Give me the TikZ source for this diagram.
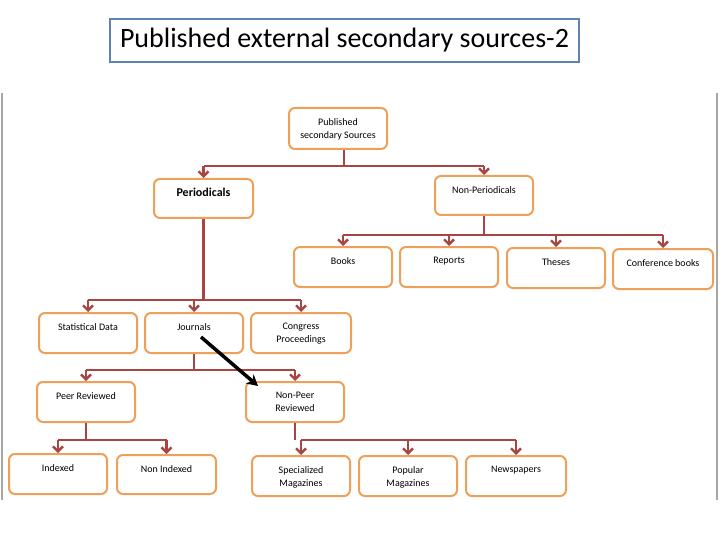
\documentclass[tikz,border=0pt]{standalone}
\usepackage{fontspec}
\setmainfont{Carlito}
\usetikzlibrary{arrows.meta,calc}
\definecolor{conn}{RGB}{168,68,66}
\definecolor{boxc}{RGB}{238,160,88}
\definecolor{titc}{RGB}{96,130,172}
\tikzset{
  box/.style={draw=boxc, line width=2pt, rounded corners=6pt, fill=white, inner sep=0pt},
  lbl/.style={anchor=north, yshift=-11pt, inner sep=0pt, align=center, font=\fontsize{10}{13}\selectfont},
  conn/.style={draw=conn, line width=2.6pt},
  arr/.style={conn, -{Straight Barb[length=5pt,width=10pt,line width=2.4pt]}},
}
\newcommand\bx[5]{\node[box, minimum width=#3pt, minimum height=#4pt, label={[lbl]north:#5}] (#1) at (#2) {};}
\begin{document}
\begin{tikzpicture}[x=1pt,y=-1pt]
\useasboundingbox (0,0) rectangle (720,540);
% side rules
\draw[gray!70, line width=1.5pt] (2,93) -- (2,500);
\draw[gray!70, line width=1.5pt] (717,93) -- (717,500);
% title
\node[draw=titc, line width=2pt, minimum width=469pt, minimum height=43pt, inner sep=0pt,
      font=\fontsize{28}{32}\selectfont] (title) at (344.5,40.5) {Published external secondary sources-2};
% boxes
\bx{pub}{338,128.5}{98}{41}{Published\\secondary Sources}
\node[box, minimum width=99pt, minimum height=39pt,
      label={[lbl, yshift=1pt, font=\bfseries\fontsize{12}{14}\selectfont]north:Periodicals}] (per) at (203.5,198.5) {};
\bx{nonper}{484,195.5}{98}{39}{Non-Periodicals}
\bx{books}{343,267}{98}{40}{Books}
\bx{reports}{449,267}{98}{40}{Reports}
\bx{theses}{556,268}{98}{40}{Theses}
\bx{conf}{663,269}{100}{40}{Conference books}
\bx{stat}{88,333}{98}{40}{Statistical Data}
\bx{jour}{194,333}{98}{40}{Journals}
\bx{cong}{301,333}{100}{40}{Congress\\Proceedings}
\bx{peer}{86,402}{98}{40}{Peer Reviewed}
\bx{nonpeer}{295,402}{98}{40}{Non-Peer\\Reviewed}
\bx{idx}{58,474}{98}{40}{Indexed}
\bx{nidx}{166.5,474.5}{99}{39}{Non Indexed}
\bx{spec}{301,476}{98}{40}{Specialized\\Magazines}
\bx{pop}{408,476}{98}{40}{Popular\\Magazines}
\bx{news}{516,476}{100}{40}{Newspapers}
% connectors
\coordinate (y1) at (0,166);
\coordinate (ps) at ($(pub.south)+(6,0)$);
\draw[conn] (ps) -- (ps |- y1);
\draw[conn] (per.north |- y1) -- (nonper.north |- y1);
\foreach \c in {per,nonper} \draw[arr] (\c.north |- y1) -- (\c.north);
\coordinate (y2) at (0,235);
\draw[conn] (nonper.south) -- (nonper.south |- y2);
\draw[conn] (books.north |- y2) -- (conf.north |- y2);
\foreach \c in {books,reports,theses,conf} \draw[arr] (\c.north |- y2) -- (\c.north);
\coordinate (y3) at (0,300);
\draw[conn] (per.south) -- (per.south |- y3);
\draw[conn] (stat.north |- y3) -- (cong.north |- y3);
\foreach \c in {stat,jour,cong} \draw[arr] (\c.north |- y3) -- (\c.north);
\coordinate (y4) at (0,370);
\draw[conn] (jour.south) -- (jour.south |- y4);
\draw[conn] (peer.north |- y4) -- (nonpeer.north |- y4);
\foreach \c in {peer,nonpeer} \draw[arr] (\c.north |- y4) -- (\c.north);
\coordinate (y5) at (0,440);
\draw[conn] (peer.south) -- (peer.south |- y5);
\draw[conn] (idx.north |- y5) -- (nidx.north |- y5);
\foreach \c in {idx,nidx} \draw[arr] (\c.north |- y5) -- (\c.north);
\draw[conn] (nonpeer.south) -- (nonpeer.south |- y5);
\draw[conn] (spec.north |- y5) -- (news.north |- y5);
\foreach \c in {spec,pop,news} \draw[arr] (\c.north |- y5) -- (\c.north);
% black arrow
\coordinate (bs) at (201,337);
\coordinate (be) at (258,386);
\draw[line width=3.5pt, -{Stealth[length=11pt,width=12pt]}] (bs) -- (be);
\end{tikzpicture}
\end{document}
